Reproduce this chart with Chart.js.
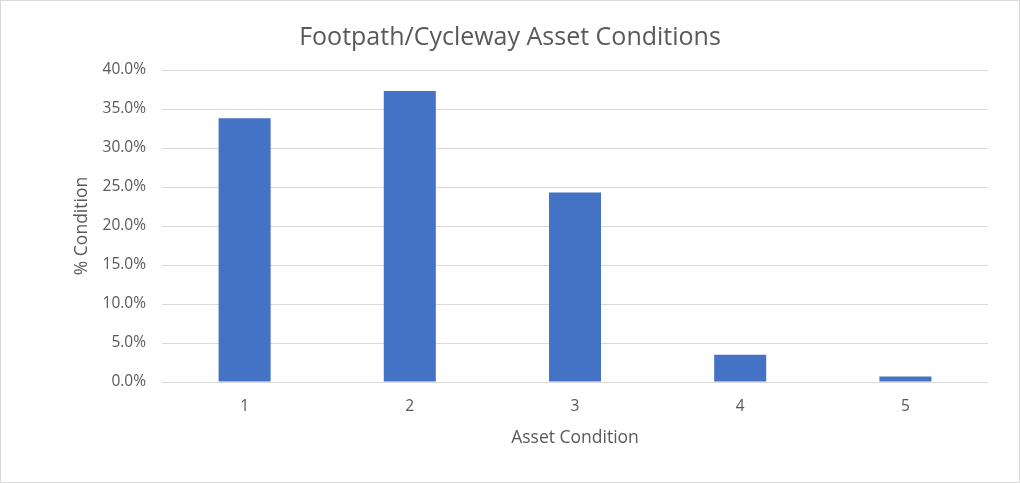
<!DOCTYPE html>
<html>
<head>
<meta charset="utf-8">
<script src="https://cdn.jsdelivr.net/npm/chart.js@4"></script>
<style>
  html, body { margin: 0; padding: 0; background: #fff; }
  #wrap { position: relative; width: 1020px; height: 483px; box-sizing: border-box; border: 1px solid #d9d9d9; }
  canvas { display: block; }
</style>
</head>
<body>
<div id="wrap"><canvas id="graphCanvas" width="1018" height="481"></canvas></div>
<script>
// chart data
var categories = ['1', '2', '3', '4', '5'];
var condition = [33.8, 37.3, 24.3, 3.5, 0.7];
var yTicks = [0, 5, 10, 15, 20, 25, 30, 35, 40];

var grey = '#595959';
var fontFam = '"Open Sans", "Noto Sans", sans-serif';

var chartdata = {
  labels: categories,
  datasets: [
    {
      label: '% Condition',
      backgroundColor: '#4472C4',
      borderWidth: 0,
      data: condition,
      categoryPercentage: 1,
      barPercentage: 0.315
    }
  ]
};

new Chart(document.getElementById('graphCanvas'), {
  type: 'bar',
  data: chartdata,
  options: {
    responsive: false,
    animation: false,
    devicePixelRatio: 1,
    layout: { padding: { left: 31, right: 31, top: 0, bottom: 30 } },
    plugins: {
      legend: { display: false },
      tooltip: { enabled: false },
      title: {
        display: true,
        text: 'Footpath/Cycleway Asset Conditions',
        color: grey,
        font: { family: fontFam, size: 25, weight: 'normal' },
        padding: { top: 22, bottom: 17 }
      }
    },
    scales: {
      x: {
        grid: { display: false, drawTicks: false },
        border: { display: false },
        ticks: { color: grey, font: { family: fontFam, size: 15.5 }, padding: 15 },
        title: {
          display: true,
          text: 'Asset Condition',
          color: grey,
          font: { family: fontFam, size: 17.5 },
          padding: { top: 0, bottom: 3 }
        },
        afterFit: function(scale) { scale.height = 70; }
      },
      y: {
        min: 0,
        max: 40,
        afterBuildTicks: function(scale) {
          scale.ticks = yTicks.map(function(v) { return { value: v }; });
        },
        grid: { color: '#d9d9d9', lineWidth: 1, drawTicks: false },
        border: { display: false },
        ticks: {
          color: grey,
          font: { family: fontFam, size: 15.5 },
          padding: 16,
          callback: function(v) { return v.toFixed(1) + '%'; }
        },
        title: {
          display: true,
          text: '% Condition',
          color: grey,
          font: { family: fontFam, size: 17.5 },
          padding: { top: 39.5, bottom: 0 }
        },
        afterFit: function(scale) { scale.width = 130; }
      }
    }
  }
});
</script>
</body>
</html>
